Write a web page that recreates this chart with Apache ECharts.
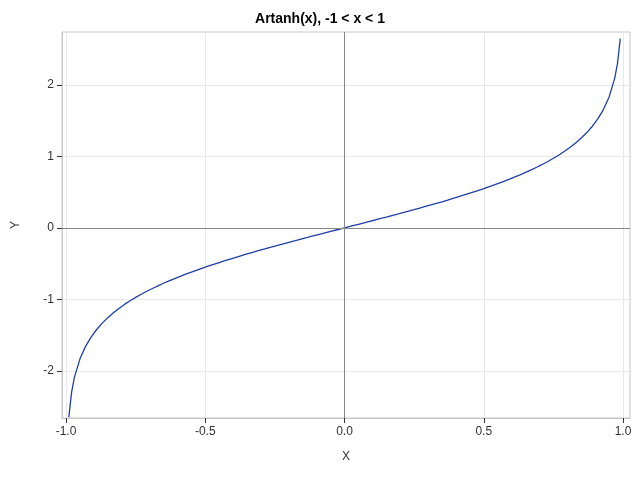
<!DOCTYPE html>
<html><head><meta charset="utf-8">
<script src="https://cdn.jsdelivr.net/npm/echarts@6/dist/echarts.min.js"></script>
<style>html,body{margin:0;padding:0;background:#fff}#c{width:640px;height:480px}</style>
</head><body><div id="c"></div>
<script>
var xVals = [-0.99,-0.98,-0.97,-0.95,-0.93,-0.91,-0.89,-0.87,-0.85,-0.83,-0.81,-0.79,-0.77,-0.75,-0.73,-0.71,-0.69,-0.67,-0.65,-0.63,-0.61,-0.59,-0.57,-0.55,-0.53,-0.51,-0.49,-0.47,-0.45,-0.43,-0.41,-0.39,-0.37,-0.35,-0.33,-0.31,-0.29,-0.27,-0.25,-0.23,-0.21,-0.19,-0.17,-0.15,-0.13,-0.11,-0.09,-0.07,-0.05,-0.03,-0.01,
  0.01,0.03,0.05,0.07,0.09,0.11,0.13,0.15,0.17,0.19,0.21,0.23,0.25,0.27,0.29,0.31,0.33,0.35,0.37,0.39,0.41,0.43,0.45,0.47,0.49,0.51,0.53,0.55,0.57,0.59,0.61,0.63,0.65,0.67,0.69,0.71,0.73,0.75,0.77,0.79,0.81,0.83,0.85,0.87,0.89,0.91,0.93,0.95,0.97,0.98,0.99];
var yVals = [-2.647,-2.298,-2.092,-1.832,-1.658,-1.528,-1.422,-1.333,-1.256,-1.188,-1.127,-1.071,-1.020,-0.973,-0.929,-0.887,-0.848,-0.811,-0.775,-0.741,-0.709,-0.678,-0.648,-0.618,-0.590,-0.563,-0.536,-0.510,-0.485,-0.460,-0.436,-0.412,-0.388,-0.365,-0.343,-0.320,-0.299,-0.277,-0.255,-0.234,-0.213,-0.192,-0.172,-0.151,-0.131,-0.110,-0.090,-0.070,-0.050,-0.030,-0.010,
  0.010,0.030,0.050,0.070,0.090,0.110,0.131,0.151,0.172,0.192,0.213,0.234,0.255,0.277,0.299,0.320,0.343,0.365,0.388,0.412,0.436,0.460,0.485,0.510,0.536,0.563,0.590,0.618,0.648,0.678,0.709,0.741,0.775,0.811,0.848,0.887,0.929,0.973,1.020,1.071,1.127,1.188,1.256,1.333,1.422,1.528,1.658,1.832,2.092,2.298,2.647];
var xTicks = [-1, -0.5, 0, 0.5, 1];
var yTicks = [-2, -1, 0, 1, 2];

var pts = xVals.map(function (x, i) { return [x, yVals[i]]; });
var txt = {color: '#333', fontFamily: 'Liberation Sans', fontSize: 12};
var myChart = echarts.init(document.getElementById('c'));
myChart.setOption({
  animation: false,
  title: {text: 'Artanh(x), -1 < x < 1', left: 'center', top: 7,
    textStyle: {fontFamily: 'Liberation Sans', fontSize: 14, fontWeight: 'bold', color: '#000'}},
  grid: {left: 62, right: 10, top: 32, bottom: 62, show: true, borderColor: '#c8c8c8', borderWidth: 1},
  xAxis: {type: 'value', min: -1.0145, max: 1.025, name: 'X', nameLocation: 'middle', nameGap: 33,
    nameTextStyle: txt,
    axisLine: {show: true, onZero: false, lineStyle: {color: '#c8c8c8'}},
    axisTick: {show: true, customValues: xTicks, length: 5, lineStyle: {color: '#333'}},
    axisLabel: Object.assign({customValues: xTicks, formatter: function (v) { return v.toFixed(1); }}, txt),
    splitLine: {show: true, lineStyle: {color: '#e8e8e8'}}},
  yAxis: {type: 'value', min: -2.66, max: 2.74, name: 'Y', nameLocation: 'middle', nameGap: 40,
    nameTextStyle: txt,
    axisLine: {show: true, onZero: false, lineStyle: {color: '#c8c8c8'}},
    axisTick: {show: true, customValues: yTicks, length: 5, lineStyle: {color: '#333'}},
    axisLabel: Object.assign({customValues: yTicks}, txt),
    splitLine: {show: true, lineStyle: {color: '#e8e8e8'}}},
  series: [{
    type: 'line', data: pts, showSymbol: false,
    lineStyle: {color: '#1f3fa8', width: 1.3},
    markLine: {silent: true, symbol: 'none', label: {show: false},
      lineStyle: {color: '#888', type: 'solid', width: 1},
      data: [{xAxis: 0}, {yAxis: 0}]}
  }]
});
</script></body></html>
